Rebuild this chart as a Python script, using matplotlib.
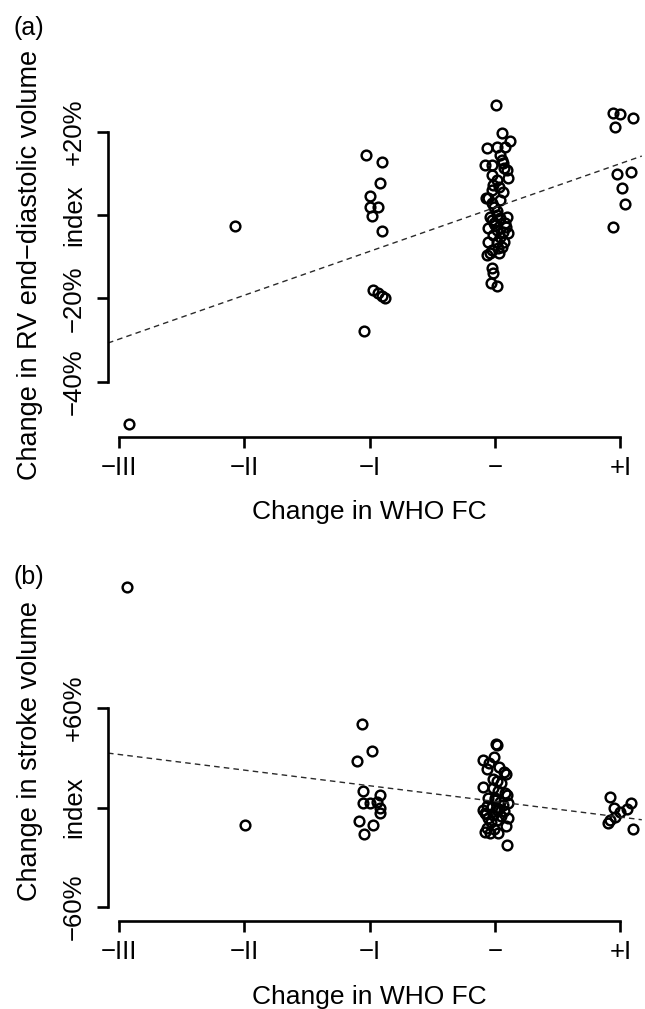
import matplotlib
matplotlib.use("Agg")
import matplotlib.pyplot as plt

plt.rcParams['font.family'] = ['Liberation Sans', 'DejaVu Sans']

# change in WHO functional class (jittered) vs change in RV EDVi (%)
rv_x = [-2.92, -2.07,
        -1.03, -0.90, -0.92, -1.00, -1.00, -0.93, -0.98, -0.90, -0.97, -0.93, -0.90, -0.88, -1.04,
        0.008, 0.056, 0.12, -0.064, 0.016, 0.08, 0.04, 0.056, 0.064, -0.08, -0.024, 0.072, 0.096,
        0.104, -0.024, 0.016, -0.016, 0.032, -0.024, -0.056, -0.072, -0.024, -0.008, 0.016, 0.016,
        -0.024, 0.04, 0.096, 0.08, -0.008, -0.056, 0.016, 0.064, 0.104, -0.016, 0.04, -0.056, 0.016,
        0.072, 0.056, -0.024, 0.032, -0.04, -0.064, -0.024, -0.016, -0.032, 0.016,
        0.0, 0.04, -0.04, 0.088, 0.024, 0.06,
        0.94, 1.00, 1.10, 0.96, 0.97, 1.08, 1.01, 1.04, 0.94]
rv_y = [-50.2, -2.6,
        14.4, 12.7, 7.7, 4.6, 1.9, 1.9, -0.2, -3.8, -18.0, -18.7, -19.4, -19.9, -27.9,
        26.4, 19.7, 17.8, 16.1, 16.3, 16.3, 14.4, 13.2, 12.5, 12.0, 12.0, 11.3, 10.8,
        8.9, 9.6, 8.4, 7.2, 6.7, 6.0, 4.1, 4.1, 2.9, 1.9, 1.0, 0.0,
        -1.2, -0.7, -0.5, -1.9, -1.9, -3.1, -3.6, -4.1, -4.3, -4.8, -5.3, -6.5, -6.5,
        -6.5, -7.7, -8.4, -9.1, -9.1, -9.6, -12.7, -13.9, -16.3, -17.0,
        -2.5, 3.5, -0.5, -3.0, -8.0, 5.5,
        24.5, 24.3, 23.3, 21.1, 9.8, 10.3, 6.5, 2.6, -2.9]

# change in WHO functional class (jittered) vs change in stroke volume index (%)
sv_x = [-2.93, -1.99,
        -1.06, -0.98, -1.10, -1.05, -0.92, -1.05, -1.00, -0.94, -0.92, -0.92, -1.08, -0.97, -1.04,
        0.016, 0.008, -0.008, -0.096, -0.048, 0.032, -0.064, 0.072, 0.088, -0.016, 0.016, 0.048,
        -0.096, -0.016, 0.024, 0.08, 0.096, -0.056, 0.0, 0.04, 0.104, -0.064, -0.024, -0.096,
        0.016, 0.072, -0.08, -0.016, 0.048, -0.056, 0.104, 0.016, -0.064, -0.008, 0.088, -0.08,
        -0.04, 0.024, 0.096,
        0.0, -0.03, 0.06, -0.07, 0.03,
        0.92, 0.95, 1.08, 1.05, 1.00, 0.96, 0.92, 0.90, 1.10]
sv_y = [133.0, -10.6,
        50.4, 34.1, 28.0, 9.9, 7.5, 2.7, 2.7, 3.3, -0.3, -3.3, -8.1, -10.6, -16.0,
        37.7, 38.3, 30.5, 28.6, 26.8, 24.4, 23.2, 21.4, 20.2, 17.2, 16.0, 14.8,
        12.4, 11.8, 10.0, 8.7, 7.5, 5.7, 4.5, 3.3, 2.7, 0.9, 0.3, -1.5,
        -1.5, -2.1, -3.3, -4.5, -5.1, -6.3, -6.3, -7.5, -12.4, -13.0, -11.2, -14.8,
        -15.4, -15.4, -22.6,
        6.0, -9.0, 1.5, -4.0, -1.0,
        6.3, -0.3, 2.7, -0.9, -2.7, -5.7, -7.5, -9.3, -13.0]

# fitted lines: intercept, slope
rv_fit = (1.8, 10.55)
sv_fit = (3.7, -9.45)

fc_ticks = [-3, -2, -1, 0, 1]
fc_labels = ['\u2212III', '\u2212II', '\u2212I', '\u2212', '+I']
rv_ticks = [-40, -20, 0, 20]
rv_labels = ['\u221240%', '\u221220%', 'index', '+20%']
sv_ticks = [-60, 0, 60]
sv_labels = ['\u221260%', 'index', '+60%']

W, H = 645, 1009
fig = plt.figure(figsize=(W / 100, H / 100), dpi=100)

def panel(rect, xs, ys, fit, yticks, ylabels, ylim, ylab, ylab_y, tag, tag_y, xlab_y):
    ax = fig.add_axes(rect)
    ax.plot(xs, ys, 'o', mfc='none', mec='black', ms=7.0, mew=1.75, clip_on=False)
    x0, x1 = -3.084, 1.17
    ax.plot([x0, x1], [fit[0] + fit[1] * x0, fit[0] + fit[1] * x1],
            color='#2a2a2a', lw=1.0, linestyle=(0, (4.0, 3.0)), clip_on=False)
    ax.set_xlim(-3.084, 1.076)
    ax.set_ylim(*ylim)
    for s in ['top', 'right']:
        ax.spines[s].set_visible(False)
    ax.spines['left'].set_bounds(yticks[0], yticks[-1])
    ax.spines['bottom'].set_bounds(fc_ticks[0], fc_ticks[-1])
    for s in ['left', 'bottom']:
        ax.spines[s].set_linewidth(1.9)
        ax.spines[s].set_capstyle('projecting')
    ax.set_xticks(fc_ticks)
    ax.set_xticklabels(fc_labels, fontsize=18.5)
    ax.set_yticks(yticks)
    ax.set_yticklabels(ylabels, fontsize=18.5, rotation=90, va='center', ha='center')
    ax.tick_params(axis='both', direction='out', length=7.9, width=1.9)
    ax.tick_params(axis='x', pad=6)
    ax.tick_params(axis='y', pad=16.5)
    fig.text(30 / W, 1 - ylab_y / H, ylab, rotation=90, ha='center', va='center', fontsize=19.5)
    fig.text(369 / W, 1 - xlab_y / H, 'Change in WHO FC', ha='center', va='baseline', fontsize=19)
    fig.text(29 / W, 1 - tag_y / H, tag, ha='center', va='center', fontsize=18)
    return ax

panel([108 / W, 1 - 437 / H, (630 - 108) / W, (437 - 95) / H],
      rv_x, rv_y, rv_fit, rv_ticks, rv_labels, (-53.3, 28.8),
      'Change in RV end\u2212diastolic volume', 265, '(a)', 28, 519)
panel([108 / W, 1 - 921 / H, (630 - 108) / W, (921 - 581) / H],
      sv_x, sv_y, sv_fit, sv_ticks, sv_labels, (-68.4, 136.6),
      'Change in stroke volume', 751, '(b)', 577, 1004)

fig.savefig('out.png', dpi=100)
